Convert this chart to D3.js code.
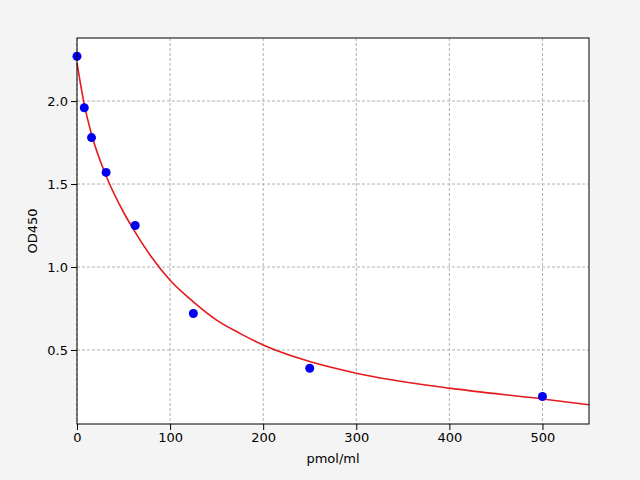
<!DOCTYPE html>
<html><head><meta charset="utf-8">
<script src="https://cdn.jsdelivr.net/npm/d3@7"></script>
<style>body{margin:0;background:#f4f4f4}</style></head>
<body><svg id="c" width="640" height="480"></svg>
<script>
const xTicks=[0,100,200,300,400,500];
const yTicks=[0.5,1.0,1.5,2.0];
const pointX=[0,7.8,15.6,31.25,62.5,125,250,500];
const pointY=[2.27,1.96,1.78,1.57,1.25,0.72,0.39,0.22];
const curveX=[0,7.8,15.6,31.25,50,62.5,80,100,125,150,175,200,250,300,400,500,550];
const curveY=[2.23,1.98,1.80,1.55,1.33,1.21,1.06,0.92,0.79,0.68,0.60,0.53,0.43,0.36,0.27,0.205,0.17];
const svg=d3.select("#c");
const L=77,R=589,T=38,B=424;
const x=d3.scaleLinear().domain([0,550]).range([L,R]);
const y=d3.scaleLinear().domain([0.054,2.38]).range([B,T]);
svg.append("rect").attr("x",L).attr("y",T).attr("width",R-L).attr("height",B-T).attr("fill","#fff");
const g=svg.append("g");
xTicks.forEach(t=>g.append("line").attr("x1",x(t)).attr("x2",x(t)).attr("y1",T).attr("y2",B).attr("stroke","#b0b0b0").attr("stroke-dasharray","3,2"));
yTicks.forEach(t=>g.append("line").attr("y1",y(t)).attr("y2",y(t)).attr("x1",L).attr("x2",R).attr("stroke","#b0b0b0").attr("stroke-dasharray","3,2"));
const line=d3.line().x(d=>x(d[0])).y(d=>y(d[1])).curve(d3.curveMonotoneX);
svg.append("path").attr("d",line(curveX.map((v,i)=>[v,curveY[i]]))).attr("fill","none").attr("stroke","#e41a1c").attr("stroke-width",1.6);
svg.selectAll(".p").data(pointX.map((v,i)=>[v,pointY[i]])).enter().append("circle")
 .attr("cx",d=>x(d[0])).attr("cy",d=>y(d[1])).attr("r",4.5).attr("fill","#0000ee");
const xa=svg.append("g").attr("transform",`translate(0,${B})`).call(d3.axisBottom(x).tickValues(xTicks).tickFormat(d3.format("d")).tickSizeOuter(0));
const ya=svg.append("g").attr("transform",`translate(${L},0)`).call(d3.axisLeft(y).tickValues(yTicks).tickFormat(d3.format(".1f")).tickSizeOuter(0));
[xa,ya].forEach(a=>{a.select(".domain").remove();a.selectAll("text").attr("font-size",13).attr("font-family","DejaVu Sans").attr("fill","#000");a.selectAll("line").attr("stroke","#000");});
svg.append("rect").attr("x",L).attr("y",T).attr("width",R-L).attr("height",B-T).attr("fill","none").attr("stroke","#000");
svg.append("text").attr("x",(L+R)/2).attr("y",463).attr("text-anchor","middle").attr("font-size",13).attr("font-family","DejaVu Sans").text("pmol/ml");
svg.append("text").attr("transform",`translate(37,${(T+B)/2}) rotate(-90)`).attr("text-anchor","middle").attr("font-size",13).attr("font-family","DejaVu Sans").text("OD450");
</script></body></html>
